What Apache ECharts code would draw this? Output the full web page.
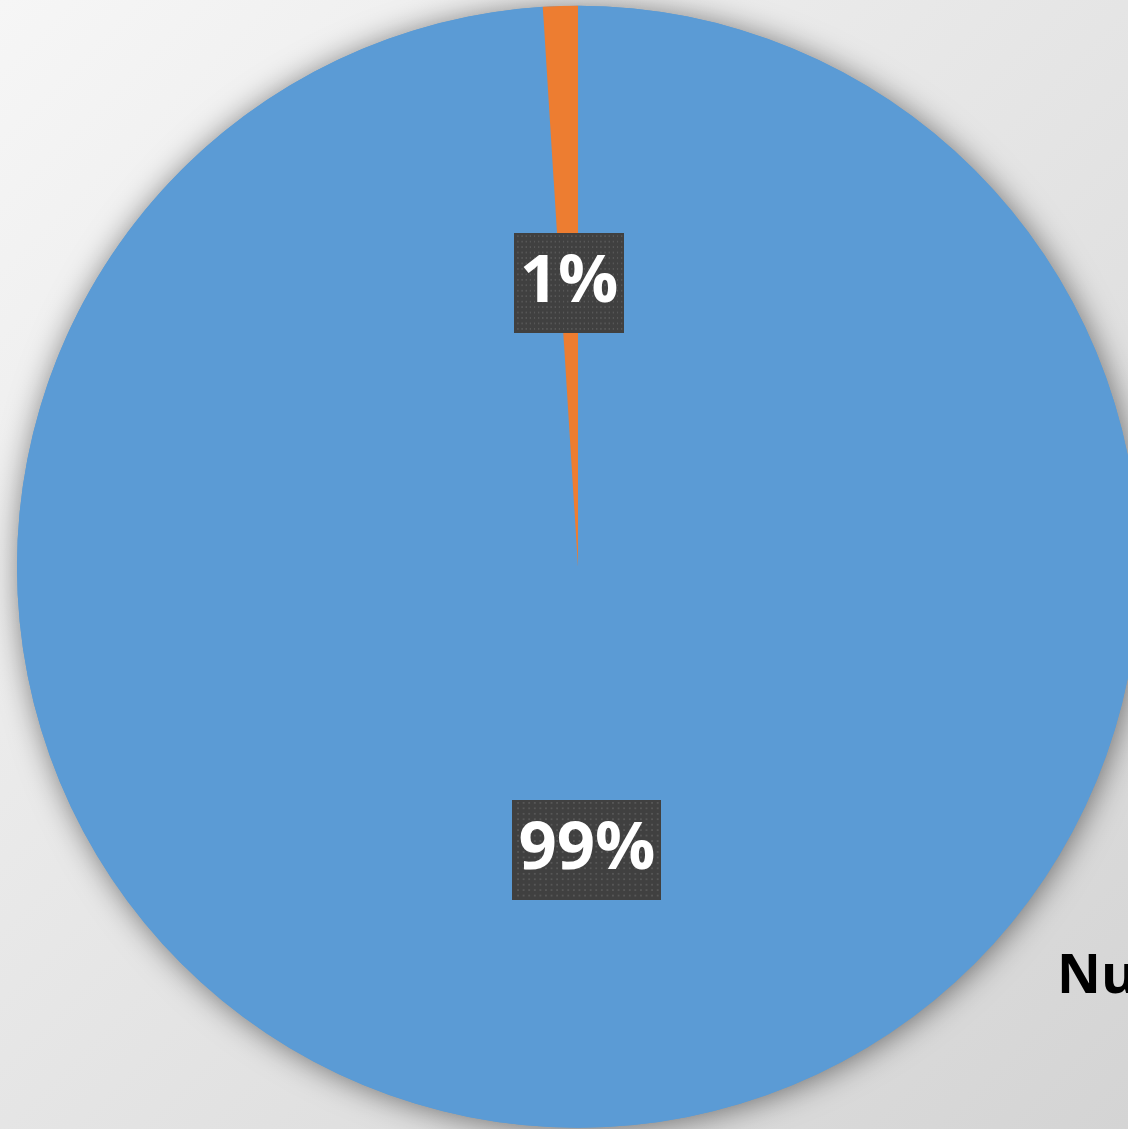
<!DOCTYPE html>
<html>
<head>
<meta charset="utf-8">
<script src="https://cdn.jsdelivr.net/npm/echarts@6/dist/echarts.min.js"></script>
<style>
  html, body { margin: 0; padding: 0; }
  #chart { width: 1128px; height: 1129px; }
</style>
</head>
<body>
<div id="chart"></div>
<script>
const categories = ['Yes', 'No'];
const values = [99, 1];
const sliceColors = ['#5B9BD5', '#ED7D31'];
const titleText = 'Nu';

// dotted dark fill used by the data label boxes
function dotPattern(w, h) {
    const c = document.createElement('canvas');
    c.width = w; c.height = h;
    const ctx = c.getContext('2d');
    ctx.fillStyle = '#404040';
    ctx.fillRect(0, 0, w, h);
    ctx.fillStyle = '#575757';
    for (let y = 2; y < h; y += 6) {
        for (let x = (y / 6) % 2 ? 5 : 2; x < w; x += 6) {
            ctx.fillRect(x, y, 2, 2);
        }
    }
    return c;
}

const chart = echarts.init(document.getElementById('chart'));

const option = {
    backgroundColor: new echarts.graphic.LinearGradient(0, 0, 1, 1, [
        { offset: 0, color: '#f6f6f6' },
        { offset: 1, color: '#d4d4d4' }
    ]),
    title: {
        text: titleText,
        left: 1052,
        top: 946,
        textStyle: { fontFamily: 'Open Sans', fontWeight: 'bold', fontSize: 54, color: '#000' }
    },
    series: [
        {
            // shadow disc under the pie
            type: 'pie',
            silent: true,
            center: ['51.24%', '50.2%'],
            radius: 561,
            z: 1,
            label: { show: false },
            labelLine: { show: false },
            itemStyle: {
                color: '#5B9BD5',
                shadowColor: 'rgba(0,0,0,0.5)',
                shadowBlur: 30,
                shadowOffsetX: 2,
                shadowOffsetY: 2
            },
            data: [{ value: 1, name: '' }]
        },
        {
            type: 'pie',
            center: ['51.24%', '50.2%'],
            radius: 561,
            startAngle: 90,
            clockwise: true,
            z: 2,
            data: categories.map((name, i) => ({
                name: name,
                value: values[i],
                itemStyle: { color: sliceColors[i] }
            })),
            label: {
                show: true,
                position: 'inside',
                formatter: p => Math.round(p.percent) + '%',
                fontFamily: 'Open Sans',
                fontWeight: 'bold',
                fontSize: 67,
                lineHeight: 72,
                color: '#fff',
                padding: [17, 6, 11, 6],
                backgroundColor: { image: dotPattern(160, 110) },
                shadowColor: 'rgba(0,0,0,0.6)',
                shadowBlur: 6,
                shadowOffsetX: 4,
                shadowOffsetY: 4
            },
            labelLine: { show: false },
            emphasis: { disabled: true }
        }
    ]
};

chart.setOption(option);
</script>
</body>
</html>
